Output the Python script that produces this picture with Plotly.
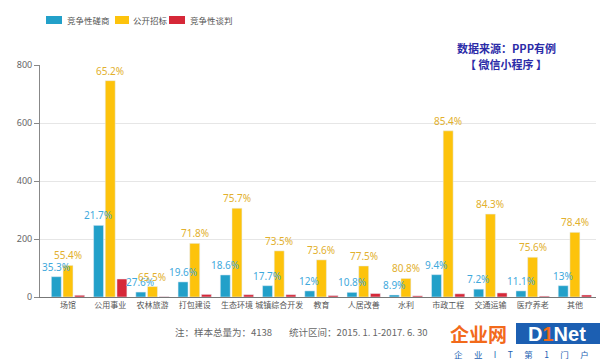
import plotly.graph_objects as go

categories = ['场馆', '公用事业', '农林旅游', '打包建设', '生态环境', '城镇综合开发', '教育',
              '人居改善', '水利', '市政工程', '交通运输', '医疗养老', '其他']
series_names = ['竞争性磋商', '公开招标', '竞争性谈判']
blue_vals = [70, 247, 17, 52, 76, 39, 21, 16, 7, 77, 27, 21, 39]
yellow_vals = [109, 746, 36, 185, 306, 159, 128, 107, 64, 573, 286, 137, 223]
red_vals = [6, 62, 1, 9, 8, 8, 5, 12, 4, 11, 14, 3, 7]
blue_pct = ['35.3%', '21.7%', '27.6%', '19.6%', '18.6%', '17.7%', '12%', '10.8%', '8.9%',
            '9.4%', '7.2%', '11.1%', '13%']
yellow_pct = ['55.4%', '65.2%', '65.5%', '71.8%', '75.7%', '73.5%', '73.6%', '77.5%', '80.8%',
              '85.4%', '84.3%', '75.6%', '78.4%']
y_ticks = [0, 200, 400, 600, 800]

C_BLUE = '#22a0c9'
C_YELLOW = '#fdc30c'
C_RED = '#d62838'
L_BLUE = '#3fa9dc'
L_GOLD = '#e2b02e'

W, H = 600, 359
ML, MR, MT, MB = 40, 4, 65, 62
PW = W - ML - MR
PH = H - MT - MB


def xp(px):
    return (px - ML) / PW


def yp(py):
    return (H - MB - py) / PH


fig = go.Figure()
fig.add_trace(go.Bar(x=categories, y=blue_vals, name=series_names[0], marker_color=C_BLUE,
                     showlegend=False))
fig.add_trace(go.Bar(x=categories, y=yellow_vals, name=series_names[1], marker_color=C_YELLOW,
                     showlegend=False))
fig.add_trace(go.Bar(x=categories, y=red_vals, name=series_names[2], marker_color=C_RED,
                     showlegend=False))

shapes = []
annotations = []

# value labels above bars (drawn on top of all bars)
for cat, v, t in zip(categories, blue_vals, blue_pct):
    annotations.append(dict(x=cat, y=v, text=t, xref='x', yref='y', showarrow=False,
                            xanchor='center', yanchor='bottom', xshift=-12, yshift=1,
                            font=dict(size=10, color=L_BLUE, family='Noto Sans')))
for cat, v, t in zip(categories, yellow_vals, yellow_pct):
    annotations.append(dict(x=cat, y=v, text=t, xref='x', yref='y', showarrow=False,
                            xanchor='center', yanchor='bottom', xshift=0, yshift=1,
                            font=dict(size=10, color=L_GOLD, family='Noto Sans')))

# custom legend
legend_items = [
    (series_names[0], C_BLUE, 46, 62, 65),
    (series_names[1], C_YELLOW, 115, 129, 131),
    (series_names[2], C_RED, 169, 185, 188),
]
for name, col, x0, x1, tx in legend_items:
    shapes.append(dict(type='rect', xref='paper', yref='paper', x0=xp(x0), x1=xp(x1),
                       y0=yp(24), y1=yp(16), fillcolor=col, line=dict(width=0)))
    annotations.append(dict(text=name, xref='paper', yref='paper', x=xp(tx), y=yp(20),
                            xanchor='left', yanchor='middle', showarrow=False,
                            font=dict(size=8.5, color='#555555', family='Noto Sans CJK SC')))

# source text
annotations.append(dict(text='<b>数据来源：PPP有例</b>', xref='paper', yref='paper', x=xp(506), y=yp(48),
                        xanchor='center', yanchor='middle', showarrow=False,
                        font=dict(size=11, color='#2c2ca8', family='Noto Sans CJK SC')))
annotations.append(dict(text='<b>【 微信小程序 】</b>', xref='paper', yref='paper', x=xp(506), y=yp(64),
                        xanchor='center', yanchor='middle', showarrow=False,
                        font=dict(size=11, color='#2c2ca8', family='Noto Sans CJK SC')))

# footnote
annotations.append(dict(text='注：样本总量为：4138        统计区间：2015. 1. 1-2017. 6. 30',
                        xref='paper', yref='paper', x=xp(173), y=yp(332),
                        xanchor='left', yanchor='middle', showarrow=False,
                        font=dict(size=9.5, color='#666666', family='Noto Sans CJK SC')))

# watermark logo
annotations.append(dict(text='<b>企业网</b>', xref='paper', yref='paper', x=xp(478), y=yp(333),
                        xanchor='center', yanchor='middle', showarrow=False,
                        font=dict(size=19, color='#f26a1b', family='Noto Sans CJK SC')))
shapes.append(dict(type='rect', xref='paper', yref='paper', x0=xp(516), x1=xp(600),
                   y0=yp(344), y1=yp(323), fillcolor='#1c5fb2', line=dict(width=0)))
annotations.append(dict(text="<b>D<span style='color:#f26a1b'>1</span>Net</b>", xref='paper', yref='paper',
                        x=xp(557), y=yp(334), xanchor='center', yanchor='middle', showarrow=False,
                        font=dict(size=20, color='white', family='Liberation Sans')))
annotations.append(dict(text='企      业      I      T      第      1      门      户', xref='paper', yref='paper',
                        x=xp(521), y=yp(354), xanchor='center', yanchor='middle', showarrow=False,
                        font=dict(size=8.5, color='#1c5fb2', family='Noto Sans CJK SC')))

fig.update_layout(
    width=W, height=H,
    margin=dict(l=ML, r=MR, t=MT, b=MB),
    paper_bgcolor='white', plot_bgcolor='white',
    barmode='group', bargap=0.17, bargroupgap=0.15,
    shapes=shapes, annotations=annotations,
    showlegend=False,
    font=dict(family='Noto Sans CJK SC', color='#555555'),
)
fig.update_xaxes(type='category', showline=True, linecolor='#777777', linewidth=1,
                 ticks='', tickangle=0, tickfont=dict(size=8, color='#555555', family='Noto Sans CJK SC'),
                 showgrid=False, zeroline=False)
fig.update_yaxes(range=[0, 800], tickvals=y_ticks, showline=True, linecolor='#888888', linewidth=1,
                 ticks='outside', ticklen=5, tickcolor='#888888',
                 tickfont=dict(size=9, color='#666666', family='Noto Sans'),
                 showgrid=True, gridcolor='#e6e6e6', gridwidth=1, zeroline=False)

fig.write_html('out.html', config={'displayModeBar': False},
               post_script="document.body.style.margin='0px';document.body.style.overflow='hidden';")
